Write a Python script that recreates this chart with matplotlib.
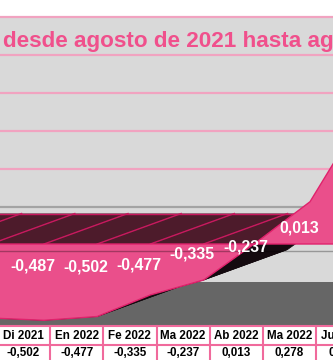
import matplotlib
matplotlib.use("Agg")
import matplotlib.pyplot as plt
import numpy as np
from matplotlib.patches import Polygon, Rectangle

# ---------------- data ----------------
months = ["Se 2021", "Oc 2021", "No 2021", "Di 2021", "En 2022", "Fe 2022",
          "Ma 2022", "Ab 2022", "Ma 2022", "Ju 2022"]
values = [-0.492, -0.477, -0.487, -0.502, -0.477, -0.335, -0.237, 0.013, 0.278, 0.852]
grid_ticks = [0.0, 0.25, 0.5, 0.75, 1.0, 1.25]
title_text = "desde agosto de 2021 hasta agosto de 2022"

# ---------------- style / layout ----------------
FONT = ["Liberation Sans", "DejaVu Sans"]
PINK = "#ea4f8b"
PINK_EDGE = "#e0226c"
MAROON = "#4d1b2b"
BLACK = "#140a0f"
LGREY = "#d9d9d9"
DGREY = "#666666"
GRID_PINK = "#f1a3c0"
TITLE_PINK = "#f0508c"
TABLE_LINE = "#f06a9c"

W_PX, H_PX = 333, 360
STEP_PX = 53.2          # pixels per category
FRONT_PX = 44.0         # pixel x of the 4th category (index 3)
ZERO_PX = 244.0         # pixel y of value 0 on the front face
UNIT_PX = 152.0         # pixels per value unit

x_left = 3 - FRONT_PX / STEP_PX
x_right = x_left + W_PX / STEP_PX
y_bottom = (ZERO_PX - H_PX) / UNIT_PX
y_top = ZERO_PX / UNIT_PX


def vy(ypx):
    return (ZERO_PX - ypx) / UNIT_PX


DX = 84.0 / STEP_PX      # depth offset (categories)
DY = 30.5 / UNIT_PX      # depth offset (value units)
WALL_DY = 37.0 / UNIT_PX
TABLE_SHIFT = -20.5 / STEP_PX

fig = plt.figure(figsize=(W_PX / 100, H_PX / 100), dpi=100)
ax = fig.add_axes([0, 0, 1, 1])
ax.set_xlim(x_left, x_right)
ax.set_ylim(y_bottom, y_top)
ax.axis("off")
fig.patch.set_facecolor("white")

# background: wall + floor
ax.add_patch(Rectangle((x_left, vy(282)), x_right - x_left, vy(16.5) - vy(282),
                       facecolor=LGREY, edgecolor="none", zorder=0))
ax.add_patch(Rectangle((x_left, vy(325)), x_right - x_left, vy(282) - vy(325),
                       facecolor=DGREY, edgecolor="none", zorder=0))

# back-wall gridlines
for t in grid_ticks:
    col = "#a3a3a3" if t == 0 else GRID_PINK
    ax.axhline(t + WALL_DY, color=col, lw=1.6, zorder=1)

# title
ax.text(x_left + 3 / STEP_PX, vy(47), title_text, ha="left", va="baseline",
        color=TITLE_PINK, fontsize=16.2, fontweight="bold", family=FONT, zorder=2)

# ---------------- 3D area ----------------
x = np.arange(len(values), dtype=float)
v = np.array(values, dtype=float)

xs, vs = [x[0]], [v[0]]
for k in range(len(v) - 1):
    if v[k] * v[k + 1] < 0:
        xc = x[k] + (0 - v[k]) / (v[k + 1] - v[k]) * (x[k + 1] - x[k])
        xs.append(xc)
        vs.append(0.0)
    xs.append(x[k + 1])
    vs.append(v[k + 1])
xs = np.array(xs)
vs = np.array(vs)
lb = np.minimum(vs, 0)
ub = np.maximum(vs, 0)

# bottom (underside) surfaces
for k in range(len(xs) - 1):
    if lb[k] == 0 and lb[k + 1] == 0:
        continue
    poly = [(xs[k], lb[k]), (xs[k + 1], lb[k + 1]),
            (xs[k + 1] + DX, lb[k + 1] + DY), (xs[k] + DX, lb[k] + DY)]
    ax.add_patch(Polygon(poly, closed=True, facecolor=BLACK, edgecolor=BLACK,
                         lw=0.5, zorder=3))

# top surface along zero plane
for k in range(len(xs) - 1):
    if ub[k] == 0 and ub[k + 1] == 0:
        poly = [(xs[k], 0), (xs[k + 1], 0), (xs[k + 1] + DX, DY), (xs[k] + DX, DY)]
        ax.add_patch(Polygon(poly, closed=True, facecolor=MAROON, edgecolor="none",
                             zorder=4))
neg_x = xs[ub == 0]
for xi in neg_x:
    ax.plot([xi, xi + DX], [0, DY], color="#c8185e", lw=1.0, zorder=5)
ax.plot([neg_x.min() + DX, neg_x.max() + DX], [DY, DY], color="#c8185e", lw=1.0, zorder=5)

# front face
front = list(zip(xs, vs)) + [(xs[-1], 0), (xs[0], 0)]
ax.add_patch(Polygon(front, closed=True, facecolor=PINK, edgecolor=PINK_EDGE,
                     lw=1.0, zorder=6))
ax.axhline(vy(250.5), color="black", alpha=0.3, lw=1.0, zorder=7)

# data labels (only those whose anchor lies inside the visible region)
for xi, val in zip(x, v):
    lx = xi + DX / 2
    if lx < x_left:
        continue
    ax.text(lx, val / 2 + DY / 2, f"{val:.3f}".replace(".", ","),
            ha="center", va="center", color="white", fontsize=11.4,
            fontweight="bold", family=FONT, zorder=8, clip_on=True)

# ---------------- data table ----------------
ax.add_patch(Rectangle((x_left, y_bottom), x_right - x_left, vy(326) - y_bottom,
                       facecolor="white", edgecolor="none", zorder=9))
for yl in (326, 345):
    ax.axhline(vy(yl), color=TABLE_LINE, lw=1.5, zorder=10)
for xi, m, val in zip(x, months, v):
    c = xi + TABLE_SHIFT
    ax.plot([c - 0.5, c - 0.5], [y_bottom, vy(326)], color=TABLE_LINE, lw=1.5, zorder=10)
    if c < x_left:
        continue
    ax.text(c, vy(336), m, ha="center", va="center", fontsize=8.4,
            fontweight="bold", family=FONT, color="black", zorder=11, clip_on=True)
    ax.text(c, vy(353), f"{val:.3f}".replace(".", ","), ha="center", va="center",
            fontsize=8.4, fontweight="bold", family=FONT, color="black", zorder=11,
            clip_on=True)

fig.savefig("out.png", dpi=100, facecolor="white")
